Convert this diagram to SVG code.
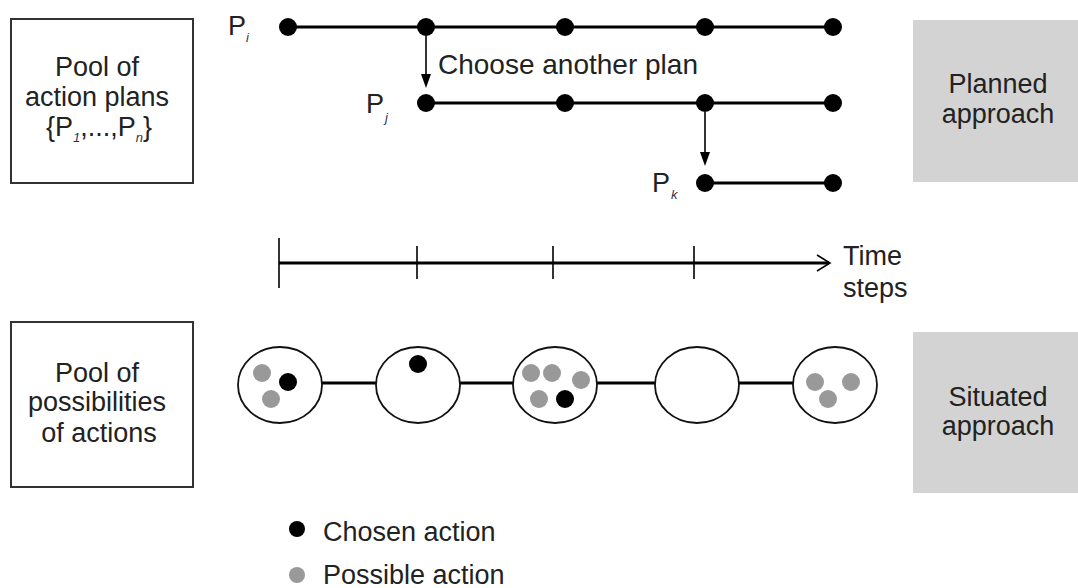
<svg xmlns="http://www.w3.org/2000/svg" width="1078" height="588" viewBox="0 0 1078 588">
<style>
text{font-family:"Liberation Sans",Arial,sans-serif;font-size:27px;fill:#222}
.sub{font-size:13px;font-style:italic;fill:#334}
.box{fill:#fff;stroke:#333;stroke-width:2}
.gbox{fill:#d3d3d3}
.ln{stroke:#000;stroke-width:3;fill:none}
.thin{stroke:#000;stroke-width:1.6;fill:none}
.ah{fill:#000}
.dot{fill:#000}
.gdot{fill:#999}
.ell{fill:#fff;stroke:#111;stroke-width:1.8}
</style>
<rect width="1078" height="588" fill="#fff"/>

<g id="pool-plans">
<rect class="box" x="11" y="19" width="182" height="164"/>
<text x="97" y="76" text-anchor="middle">Pool of</text>
<text x="97" y="106" text-anchor="middle">action plans</text>
<text x="99" y="136" text-anchor="middle">{P<tspan class="sub" dy="6">1</tspan><tspan dy="-6">,...,P</tspan><tspan class="sub" dy="6">n</tspan><tspan dy="-6">}</tspan></text>
</g>

<g id="planned">
<rect class="gbox" x="913" y="20" width="165" height="162"/>
<text x="998" y="93" text-anchor="middle">Planned</text>
<text x="998" y="123" text-anchor="middle">approach</text>
</g>

<g id="pool-possibilities">
<rect class="box" x="11" y="322" width="182" height="165"/>
<text x="97" y="382" text-anchor="middle">Pool of</text>
<text x="97" y="411" text-anchor="middle">possibilities</text>
<text x="99" y="442" text-anchor="middle">of actions</text>
</g>

<g id="situated">
<rect class="gbox" x="913" y="332" width="165" height="161"/>
<text x="998" y="406" text-anchor="middle">Situated</text>
<text x="998" y="435" text-anchor="middle">approach</text>
</g>

<g id="connectors">
<line class="ln" x1="288" y1="27" x2="833" y2="27"/>
<line class="ln" x1="426" y1="103" x2="833" y2="103"/>
<line class="ln" x1="705" y1="183" x2="833" y2="183"/>
<line class="thin" x1="426" y1="36" x2="426" y2="76"/>
<polygon class="ah" points="421,74 431,74 426,88"/>
<line class="thin" x1="705" y1="112" x2="705" y2="154"/>
<polygon class="ah" points="700,152 710,152 705,166"/>
<line class="ln" x1="279" y1="263" x2="829" y2="263"/>
<path class="thin" d="M817,255 L830,263 L817,271"/>
<line class="thin" x1="279" y1="238" x2="279" y2="288"/>
<line class="thin" x1="417" y1="246" x2="417" y2="279"/>
<line class="thin" x1="553" y1="246" x2="553" y2="279"/>
<line class="thin" x1="694" y1="246" x2="694" y2="279"/>
<line class="ln" x1="322" y1="383" x2="377" y2="383"/>
<line class="ln" x1="460" y1="383" x2="514" y2="383"/>
<line class="ln" x1="597" y1="383" x2="655" y2="383"/>
<line class="ln" x1="738" y1="383" x2="793" y2="383"/>
</g>

<g id="plan-i">
<text x="228" y="35">P</text><text class="sub" x="246" y="42">i</text>
<circle class="dot" cx="288" cy="27" r="9"/>
<circle class="dot" cx="426" cy="27" r="9"/>
<circle class="dot" cx="565" cy="27" r="9"/>
<circle class="dot" cx="705" cy="27" r="9"/>
<circle class="dot" cx="833" cy="27" r="9"/>
</g>
<g id="choose-label">
<text x="438" y="74" style="font-size:28px">Choose another plan</text>
</g>
<g id="plan-j">
<text x="366" y="113">P</text><text class="sub" x="385" y="122">j</text>
<circle class="dot" cx="426" cy="103" r="9"/>
<circle class="dot" cx="565" cy="103" r="9"/>
<circle class="dot" cx="705" cy="103" r="9"/>
<circle class="dot" cx="833" cy="103" r="9"/>
</g>
<g id="plan-k">
<text x="652" y="192">P</text><text class="sub" x="671" y="199">k</text>
<circle class="dot" cx="705" cy="183" r="9"/>
<circle class="dot" cx="833" cy="183" r="9"/>
</g>

<g id="time-label">
<text x="843" y="265">Time</text>
<text x="843" y="297">steps</text>
</g>

<g id="step1">
<ellipse class="ell" cx="280" cy="385" rx="42" ry="38"/>
<circle class="gdot" cx="262" cy="373" r="9"/>
<circle class="dot" cx="288" cy="382" r="9"/>
<circle class="gdot" cx="271" cy="399" r="9"/>
</g>
<g id="step2">
<ellipse class="ell" cx="418" cy="385" rx="42" ry="38"/>
<circle class="dot" cx="418" cy="364" r="9"/>
</g>
<g id="step3">
<ellipse class="ell" cx="555" cy="385" rx="42" ry="38"/>
<circle class="gdot" cx="531" cy="373" r="9"/>
<circle class="gdot" cx="552" cy="373" r="9"/>
<circle class="gdot" cx="581" cy="380" r="9"/>
<circle class="gdot" cx="539" cy="399" r="9"/>
<circle class="dot" cx="565" cy="399" r="9"/>
</g>
<g id="step4">
<ellipse class="ell" cx="697" cy="385" rx="42" ry="38"/>
</g>
<g id="step5">
<ellipse class="ell" cx="835" cy="385" rx="42" ry="38"/>
<circle class="gdot" cx="815" cy="382" r="9"/>
<circle class="gdot" cx="851" cy="382" r="9"/>
<circle class="gdot" cx="828" cy="399" r="9"/>
</g>

<g id="legend">
<circle class="dot" cx="297" cy="529" r="8"/>
<text x="323" y="541">Chosen action</text>
<circle class="gdot" cx="297" cy="575" r="8"/>
<text x="323" y="584">Possible action</text>
</g>
</svg>
